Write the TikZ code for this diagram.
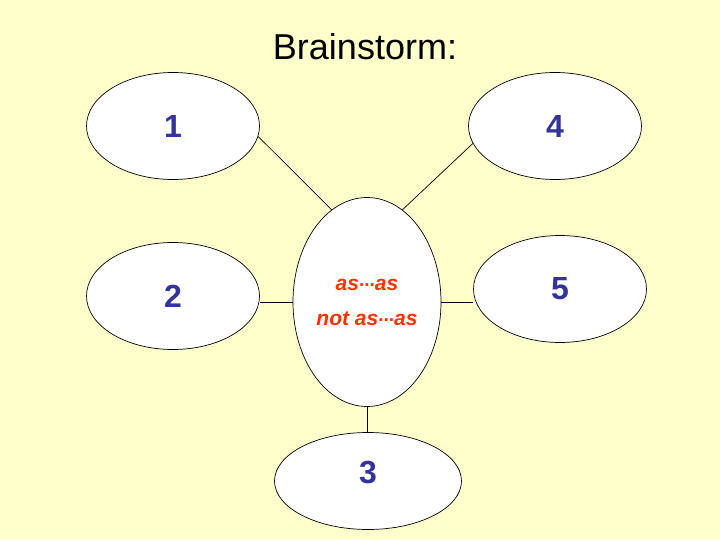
\documentclass[tikz,border=0pt]{standalone}
\usepackage{fontspec}
\setmainfont{Liberation Sans}
\usepackage{color}
\definecolor{mycream}{RGB}{255,255,204}
\definecolor{myblue}{RGB}{51,51,153}
\definecolor{myorange}{RGB}{255,51,0}
\usetikzlibrary{shapes.geometric,positioning,calc}
\newcommand{\mydots}{\raisebox{4pt}{\fontsize{19}{19}\selectfont\upshape...}}

\begin{document}
\begin{tikzpicture}[
  x=1pt,y=-1pt,
  line width=0.7pt,
  myidea/.style={
    draw,
    ellipse,
    fill=white,
    inner sep=0pt,
    minimum width=173pt,
    minimum height=107pt,
    text=myblue,
    font=\fontsize{32}{32}\selectfont\bfseries
    },
  mycore/.style={
    draw,
    ellipse,
    fill=white,
    inner sep=0pt,
    minimum width=148pt,
    minimum height=209pt,
    align=center,
    text=myorange,
    font=\fontsize{21}{35}\selectfont\bfseries\itshape
  }
]

\fill[mycream] (0,0) rectangle (720,540);

\node[font=\fontsize{36}{36}\selectfont] (title) at (365,47) {Brainstorm:};

\node[mycore] (core) at (367,302)
  {as\mydots as\\
   not as\mydots as};

\foreach \Num/\Px/\Py in {1/173/126, 2/173/296, 4/555/126, 5/560/289}
  \node[myidea] (idea\Num) at (\Px,\Py) {\Num};
\node[myidea, minimum width=187pt, minimum height=97pt, text depth=18pt]
  (idea3) at (368,481) {3};

\draw (idea1.-7) -- (core.111);
\draw (idea4.192) -- (core.69);
\draw (core.west) -- (core.west -| idea2.east);
\draw (core.east) -- (core.east -| idea5.west);
\draw (core.south) -- (core.south |- idea3.north);

\end{tikzpicture}
\end{document}
